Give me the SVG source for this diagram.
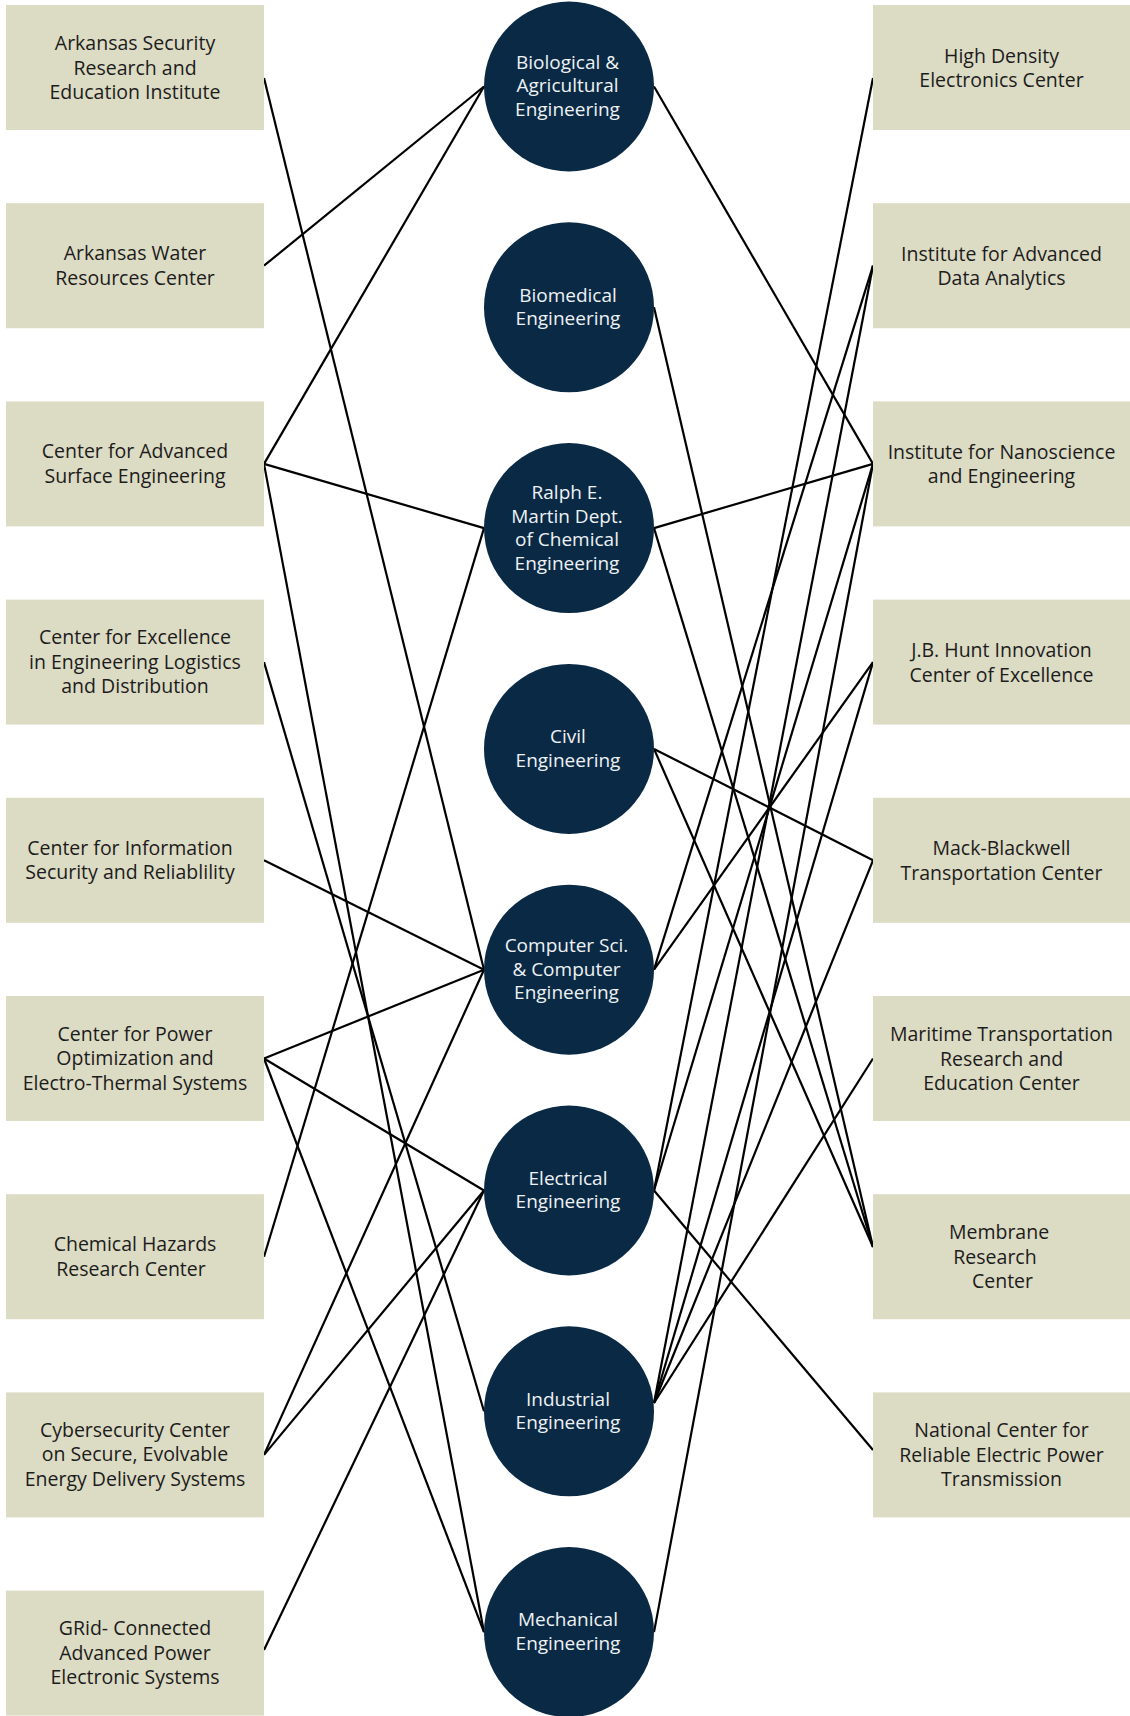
<svg xmlns="http://www.w3.org/2000/svg" width="1130" height="1716" viewBox="0 0 1130 1716">
<style>
.box{fill:#dcdbc4}
.btxt{font-family:"Open Sans","Liberation Sans",sans-serif;font-size:19.5px;fill:#1c1c1c;text-anchor:middle}
.circ{fill:#0a2944}
.ctxt{font-family:"Open Sans","Liberation Sans",sans-serif;font-size:19px;fill:#eef2f5;text-anchor:middle}
.conn line{stroke:#000;stroke-width:2.2;fill:none}
</style>
<rect width="1130" height="1716" fill="#fff"/>
<g id="connectors" class="conn">
<line x1="264" y1="78" x2="484" y2="969.7"/>
<line x1="264" y1="265.7" x2="484" y2="86.5"/>
<line x1="264" y1="463.9" x2="484" y2="86.5"/>
<line x1="264" y1="463.9" x2="484" y2="528.1"/>
<line x1="264" y1="463.9" x2="484" y2="1632.1"/>
<line x1="264" y1="662.1" x2="484" y2="1411.3"/>
<line x1="264" y1="860.3" x2="484" y2="969.7"/>
<line x1="264" y1="1058.5" x2="484" y2="969.7"/>
<line x1="264" y1="1058.5" x2="484" y2="1190.5"/>
<line x1="264" y1="1058.5" x2="484" y2="1632.1"/>
<line x1="264" y1="1256.7" x2="484" y2="528.1"/>
<line x1="264" y1="1454.9" x2="484" y2="969.7"/>
<line x1="264" y1="1454.9" x2="484" y2="1190.5"/>
<line x1="264" y1="1650" x2="484" y2="1190.5"/>
<line x1="654" y1="86.5" x2="873" y2="463.9"/>
<line x1="654" y1="307.3" x2="873" y2="1247"/>
<line x1="654" y1="528.1" x2="873" y2="463.9"/>
<line x1="654" y1="528.1" x2="873" y2="1247"/>
<line x1="654" y1="748.9" x2="873" y2="860.3"/>
<line x1="654" y1="748.9" x2="873" y2="1247"/>
<line x1="654" y1="969.7" x2="873" y2="265.7"/>
<line x1="654" y1="969.7" x2="873" y2="662.1"/>
<line x1="654" y1="1190.5" x2="873" y2="78"/>
<line x1="654" y1="1190.5" x2="873" y2="463.9"/>
<line x1="654" y1="1190.5" x2="873" y2="1450"/>
<line x1="654" y1="1403" x2="873" y2="265.7"/>
<line x1="654" y1="1403" x2="873" y2="662.1"/>
<line x1="654" y1="1403" x2="873" y2="860.3"/>
<line x1="654" y1="1403" x2="873" y2="1058.5"/>
<line x1="654" y1="1632.1" x2="873" y2="463.9"/>
</g>
<g id="left-1"><rect class="box" x="6" y="5" width="258" height="125"/><text class="btxt"><tspan x="135" y="50">Arkansas Security</tspan><tspan x="135" y="74.5">Research and</tspan><tspan x="135" y="99">Education Institute</tspan></text></g>
<g id="left-2"><rect class="box" x="6" y="203.2" width="258" height="125"/><text class="btxt"><tspan x="135" y="260.2">Arkansas Water</tspan><tspan x="135" y="284.7">Resources Center</tspan></text></g>
<g id="left-3"><rect class="box" x="6" y="401.4" width="258" height="125"/><text class="btxt"><tspan x="135" y="458.4">Center for Advanced</tspan><tspan x="135" y="482.9">Surface Engineering</tspan></text></g>
<g id="left-4"><rect class="box" x="6" y="599.6" width="258" height="125"/><text class="btxt"><tspan x="135" y="644.1">Center for Excellence</tspan><tspan x="135" y="668.6">in Engineering Logistics</tspan><tspan x="135" y="693.1">and Distribution</tspan></text></g>
<g id="left-5"><rect class="box" x="6" y="797.8" width="258" height="125"/><text class="btxt"><tspan x="130" y="854.8">Center for Information</tspan><tspan x="130" y="879.3">Security and Reliablility</tspan></text></g>
<g id="left-6"><rect class="box" x="6" y="996" width="258" height="125"/><text class="btxt"><tspan x="135" y="1040.5">Center for Power</tspan><tspan x="135" y="1065">Optimization and</tspan><tspan x="135" y="1089.5">Electro-Thermal Systems</tspan></text></g>
<g id="left-7"><rect class="box" x="6" y="1194.2" width="258" height="125"/><text class="btxt"><tspan x="135" y="1251.2">Chemical Hazards</tspan><tspan x="131" y="1275.7">Research Center</tspan></text></g>
<g id="left-8"><rect class="box" x="6" y="1392.4" width="258" height="125"/><text class="btxt"><tspan x="135" y="1436.9">Cybersecurity Center</tspan><tspan x="135" y="1461.4">on Secure, Evolvable</tspan><tspan x="135" y="1485.9">Energy Delivery Systems</tspan></text></g>
<g id="left-9"><rect class="box" x="6" y="1590.6" width="258" height="125"/><text class="btxt"><tspan x="135" y="1635.1">GRid- Connected</tspan><tspan x="135" y="1659.6">Advanced Power</tspan><tspan x="135" y="1684.1">Electronic Systems</tspan></text></g>
<g id="right-1"><rect class="box" x="873" y="5" width="257" height="125"/><text class="btxt"><tspan x="1001.5" y="62.5">High Density</tspan><tspan x="1001.5" y="87">Electronics Center</tspan></text></g>
<g id="right-2"><rect class="box" x="873" y="203.2" width="257" height="125"/><text class="btxt"><tspan x="1001.5" y="260.7">Institute for Advanced</tspan><tspan x="1001.5" y="285.2">Data Analytics</tspan></text></g>
<g id="right-3"><rect class="box" x="873" y="401.4" width="257" height="125"/><text class="btxt"><tspan x="1001.5" y="458.9">Institute for Nanoscience</tspan><tspan x="1001.5" y="483.4">and Engineering</tspan></text></g>
<g id="right-4"><rect class="box" x="873" y="599.6" width="257" height="125"/><text class="btxt"><tspan x="1001.5" y="657.1">J.B. Hunt Innovation</tspan><tspan x="1001.5" y="681.6">Center of Excellence</tspan></text></g>
<g id="right-5"><rect class="box" x="873" y="797.8" width="257" height="125"/><text class="btxt"><tspan x="1001.5" y="855.3">Mack-Blackwell</tspan><tspan x="1001.5" y="879.8">Transportation Center</tspan></text></g>
<g id="right-6"><rect class="box" x="873" y="996" width="257" height="125"/><text class="btxt"><tspan x="1001.5" y="1041">Maritime Transportation</tspan><tspan x="1001.5" y="1065.5">Research and</tspan><tspan x="1001.5" y="1090">Education Center</tspan></text></g>
<g id="right-7"><rect class="box" x="873" y="1194.2" width="257" height="125"/><text class="btxt"><tspan x="999" y="1239.2">Membrane</tspan><tspan x="995" y="1263.7">Research</tspan><tspan x="1002.5" y="1288.2">Center</tspan></text></g>
<g id="right-8"><rect class="box" x="873" y="1392.4" width="257" height="125"/><text class="btxt"><tspan x="1001.5" y="1437.4">National Center for</tspan><tspan x="1001.5" y="1461.9">Reliable Electric Power</tspan><tspan x="1001.5" y="1486.4">Transmission</tspan></text></g>
<g id="dept-1"><circle class="circ" cx="569" cy="86.5" r="85"/><text class="ctxt"><tspan x="567.5" y="68.5">Biological &amp;</tspan><tspan x="567.5" y="92">Agricultural</tspan><tspan x="567.5" y="115.5">Engineering</tspan></text></g>
<g id="dept-2"><circle class="circ" cx="569" cy="307.3" r="85"/><text class="ctxt"><tspan x="568" y="301.5">Biomedical</tspan><tspan x="568" y="325">Engineering</tspan></text></g>
<g id="dept-3"><circle class="circ" cx="569" cy="528.1" r="85"/><text class="ctxt"><tspan x="567" y="499.4">Ralph E.</tspan><tspan x="567" y="522.9">Martin Dept.</tspan><tspan x="567" y="546.4">of Chemical</tspan><tspan x="567" y="569.9">Engineering</tspan></text></g>
<g id="dept-4"><circle class="circ" cx="569" cy="748.9" r="85"/><text class="ctxt"><tspan x="568" y="743.1">Civil</tspan><tspan x="568" y="766.6">Engineering</tspan></text></g>
<g id="dept-5"><circle class="circ" cx="569" cy="969.7" r="85"/><text class="ctxt"><tspan x="566.5" y="952.2">Computer Sci.</tspan><tspan x="566.5" y="975.7">&amp; Computer</tspan><tspan x="566.5" y="999.2">Engineering</tspan></text></g>
<g id="dept-6"><circle class="circ" cx="569" cy="1190.5" r="85"/><text class="ctxt"><tspan x="568" y="1184.7">Electrical</tspan><tspan x="568" y="1208.2">Engineering</tspan></text></g>
<g id="dept-7"><circle class="circ" cx="569" cy="1411.3" r="85"/><text class="ctxt"><tspan x="568" y="1405.5">Industrial</tspan><tspan x="568" y="1429">Engineering</tspan></text></g>
<g id="dept-8"><circle class="circ" cx="569" cy="1632.1" r="85"/><text class="ctxt"><tspan x="568" y="1626.3">Mechanical</tspan><tspan x="568" y="1649.8">Engineering</tspan></text></g>
</svg>
